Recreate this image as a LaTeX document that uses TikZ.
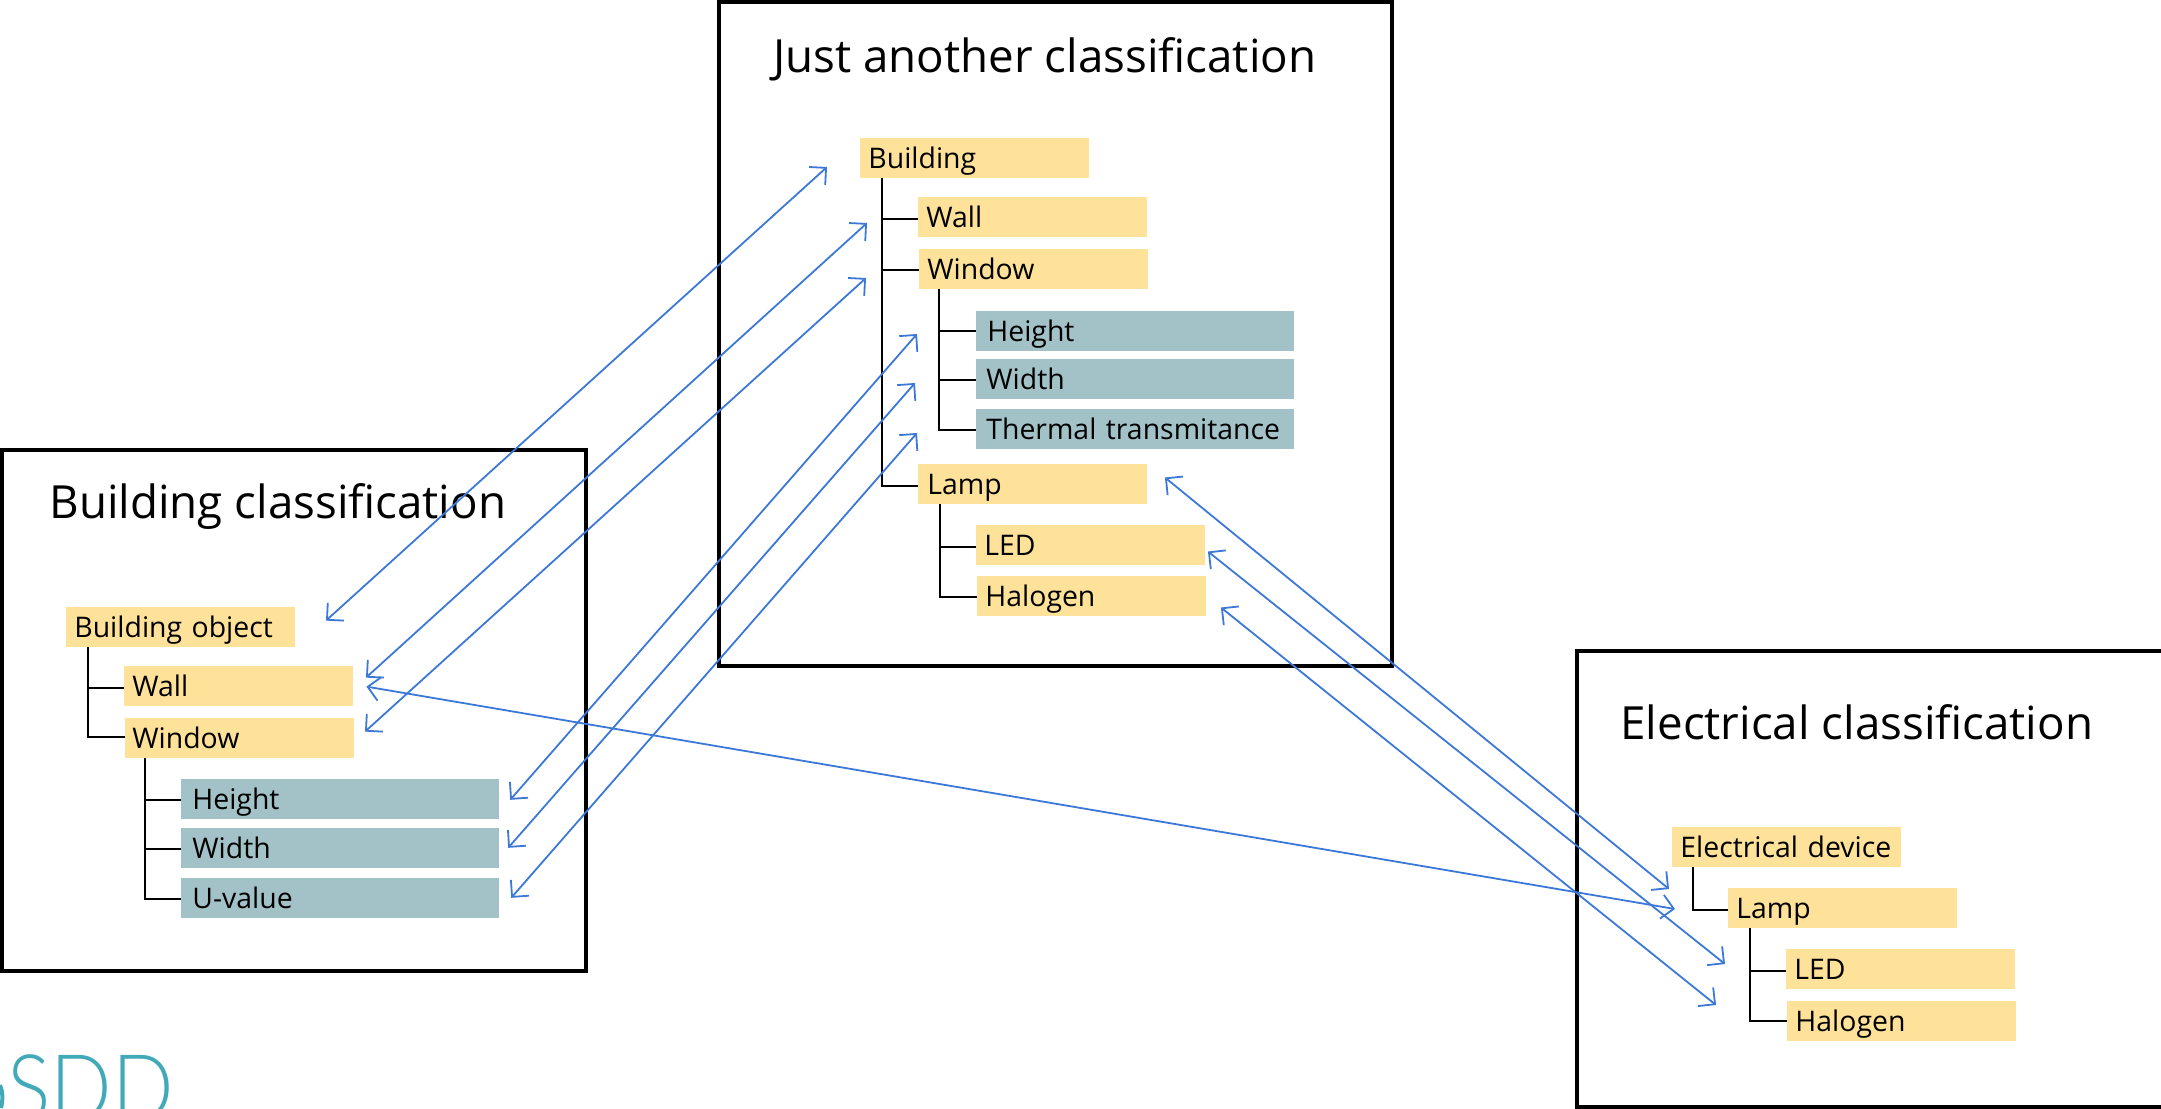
\documentclass[tikz,border=0pt]{standalone}
\usepackage{fontspec}
\usepackage{graphicx}
\setmainfont{Open Sans}
\newfontfamily\logofont{Lato Light}
\usetikzlibrary{arrows.meta}
\definecolor{boxyellow}{HTML}{FFE299}
\definecolor{boxteal}{HTML}{A2C2C7}
\definecolor{linkblue}{HTML}{3C78D8}
\definecolor{logoteal}{HTML}{42A9B9}
\tikzset{
  entry/.style={anchor=west,inner sep=0pt,text height=15pt,text depth=5pt,align=left,font=\fontsize{14.2}{16}\selectfont},
  yellowbox/.style={entry,fill=boxyellow,text width=114.5pt},
  tealbox/.style={entry,fill=boxteal,text width=159pt},
  frame/.style={draw=black,line width=2pt},
  title/.style={anchor=base west,inner sep=0pt,font=\fontsize{22.85}{26}\selectfont},
  tree/.style={draw=black,line width=1.1pt},
  link/.style={draw=linkblue,line width=.9pt,shorten <=-1.2pt,{Straight Barb[length=6pt,width=12pt,line width=.9pt]}-{Straight Barb[length=6pt,width=12pt,line width=.9pt]}}
}
\newcommand{\ind}[1]{\hspace*{#1pt}}
\begin{document}
\begin{tikzpicture}[x=.5pt,y=-.5pt]
\useasboundingbox (0,0) rectangle (2161,1108);
% logo
\begin{scope}
\clip (0,0) rectangle (2161,1108);
\node[anchor=base west,inner sep=0pt,text=logoteal,font=\logofont\fontsize{46}{50}\selectfont] (logo) at (7,1120) {\scalebox{.88}[1]{SDD}};
\draw[logoteal,line width=2pt] (0,1085) .. controls (3,1092) and (3,1100) .. (1,1108);
\end{scope}
% frames
\draw[frame] (719,2) rectangle (1392,666);
\draw[frame] (2,450) rectangle (586,971);
\draw[frame] (2175,1107) -- (1577,1107) -- (1577,651) -- (2175,651);
% titles
\node[title] (tM) at (773,72) {Just another classification};
\node[title] (tL) at (49,518) {Building classification};
\node[title] (tR) at (1620,739) {Electrical classification};
% middle
\node[yellowbox] (mB) at (860,158) {\ind{4}Building};
\node[yellowbox] (mWall) at (918,217) {\ind{4}Wall};
\node[yellowbox] (mWin) at (919,269) {\ind{4}Window};
\node[tealbox] (mH) at (976,331) {\ind{5.5}Height};
\node[tealbox] (mWd) at (976,379) {\ind{5}Width};
\node[tealbox] (mT) at (976,429) {\ind{5}Thermal transmitance};
\node[yellowbox] (mLamp) at (918,484) {\ind{4.5}Lamp};
\node[yellowbox] (mLED) at (976,545) {\ind{4}LED};
\node[yellowbox] (mHal) at (977,596) {\ind{4}Halogen};
% left
\node[yellowbox] (lObj) at (66,627) {\ind{4}Building object};
\node[yellowbox] (lWall) at (124,686) {\ind{4}Wall};
\node[yellowbox] (lWin) at (125,738) {\ind{3.5}Window};
\node[tealbox] (lH) at (181,799) {\ind{5.5}Height};
\node[tealbox] (lWd) at (181,848) {\ind{5.5}Width};
\node[tealbox] (lU) at (181,898) {\ind{5.5}U-value};
% right
\node[yellowbox] (rDev) at (1672,847) {\ind{4}Electrical device};
\node[yellowbox] (rLamp) at (1728,908) {\ind{4}Lamp};
\node[yellowbox] (rLED) at (1786,969) {\ind{4}LED};
\node[yellowbox] (rHal) at (1787,1021) {\ind{4}Halogen};
% trees
\draw[tree] ([shift={(22,0)}]mB.south west) |- ([shift={(0,2)}]mWall.west);
\draw[tree] ([shift={(22,0)}]mB.south west) |- ([shift={(0,1)}]mWin.west);
\draw[tree] ([shift={(22,0)}]mB.south west) |- ([shift={(0,2)}]mLamp.west);
\draw[tree] ([shift={(20,0)}]mWin.south west) |- ([shift={(0,0)}]mH.west);
\draw[tree] ([shift={(20,0)}]mWin.south west) |- ([shift={(0,1)}]mWd.west);
\draw[tree] ([shift={(20,0)}]mWin.south west) |- ([shift={(0,1)}]mT.west);
\draw[tree] ([shift={(22,0)}]mLamp.south west) |- ([shift={(0,2)}]mLED.west);
\draw[tree] ([shift={(22,0)}]mLamp.south west) |- ([shift={(0,1)}]mHal.west);
\draw[tree] ([shift={(22,0)}]lObj.south west) |- ([shift={(0,2)}]lWall.west);
\draw[tree] ([shift={(22,0)}]lObj.south west) |- ([shift={(0,-1)}]lWin.west);
\draw[tree] ([shift={(20,0)}]lWin.south west) |- ([shift={(0,1)}]lH.west);
\draw[tree] ([shift={(20,0)}]lWin.south west) |- ([shift={(0,1)}]lWd.west);
\draw[tree] ([shift={(20,0)}]lWin.south west) |- ([shift={(0,1)}]lU.west);
\draw[tree] ([shift={(21,0)}]rDev.south west) |- ([shift={(0,2)}]rLamp.west);
\draw[tree] ([shift={(22,0)}]rLamp.south west) |- ([shift={(0,2)}]rLED.west);
\draw[tree] ([shift={(22,0)}]rLamp.south west) |- ([shift={(0,0)}]rHal.west);
% links
\draw[link] ([shift={(32,-8)}]lObj.east) -- ([shift={(-33,9)}]mB.west);
\draw[link] ([shift={(14,-10)}]lWall.east) -- ([shift={(-51,6)}]mWall.west);
\draw[link] ([shift={(12,-8)}]lWin.east) -- ([shift={(-53,9)}]mWin.west);
\draw[link] ([shift={(12,-1)}]lH.east) -- ([shift={(-59,3)}]mH.west);
\draw[link] ([shift={(10,-2)}]lWd.east) -- ([shift={(-61,4)}]mWd.west);
\draw[link] ([shift={(13,-2)}]lU.east) -- ([shift={(-59,4)}]mT.west);
\draw[link] ([shift={(19,-5)}]mLamp.east) -- ([shift={(-59,-19)}]rLamp.west);
\draw[link] ([shift={(4,8)}]mLED.east) -- ([shift={(-61,-5)}]rLED.west);
\draw[link] ([shift={(16,13)}]mHal.east) -- ([shift={(-71,-16)}]rHal.west);
\draw[link] ([shift={(15,1)}]lWall.east) -- ([shift={(-53,1)}]rLamp.west);
\end{tikzpicture}
\end{document}
